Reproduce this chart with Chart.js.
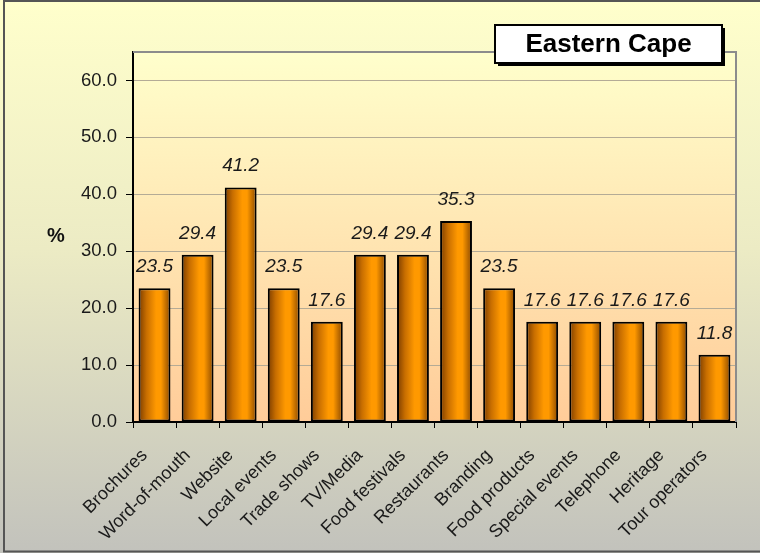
<!DOCTYPE html>
<html>
<head>
<meta charset="utf-8">
<script src="https://cdn.jsdelivr.net/npm/chart.js@4"></script>
<style>
  html, body { margin: 0; padding: 0; background: #fff; }
  canvas { display: block; }
</style>
</head>
<body>
<canvas id="chart" width="760" height="553"></canvas>
<script>
const categories = [
  'Brochures', 'Word-of-mouth', 'Website', 'Local events', 'Trade shows',
  'TV/Media', 'Food festivals', 'Restaurants', 'Branding', 'Food products',
  'Special events', 'Telephone', 'Heritage', 'Tour operators'
];
const percentages = [23.5, 29.4, 41.2, 23.5, 17.6, 29.4, 29.4, 35.3, 23.5, 17.6, 17.6, 17.6, 17.6, 11.8];
const yTicks = [0, 10, 20, 30, 40, 50, 60];
const chartTitle = 'Eastern Cape';
const axisLabel = '%';

const FONT = 'Arial, "Liberation Sans", sans-serif';
const BAR_FRACTION = 0.74;

// page + plot backgrounds, outer frame
const backdrop = {
  id: 'backdrop',
  beforeDraw(chart) {
    const { ctx, width, height, chartArea: a } = chart;
    ctx.save();
    const bg = ctx.createLinearGradient(0, 0, 0, height);
    bg.addColorStop(0, '#ffffcc');
    bg.addColorStop(0.45, '#ecebc4');
    bg.addColorStop(1, '#c2c2bc');
    ctx.fillStyle = bg;
    ctx.fillRect(0, 0, width, height);

    const pg = ctx.createLinearGradient(0, a.top, 0, a.bottom);
    pg.addColorStop(0, '#ffffcc');
    pg.addColorStop(1, '#ffcc99');
    ctx.fillStyle = pg;
    ctx.fillRect(a.left, a.top, a.right - a.left, a.bottom - a.top);

    ctx.strokeStyle = '#555';
    ctx.lineWidth = 2;
    ctx.beginPath();
    ctx.moveTo(width + 2, 1);
    ctx.lineTo(4, 1);
    ctx.lineTo(4, height - 1.5);
    ctx.lineTo(width + 2, height - 1.5);
    ctx.stroke();
    ctx.restore();
  },
  beforeDatasetsDraw(chart) {
    const { ctx, chartArea: a } = chart;
    ctx.save();
    ctx.strokeStyle = '#8c8c8c';
    ctx.lineWidth = 2;
    ctx.beginPath();
    ctx.moveTo(a.left, a.top);
    ctx.lineTo(a.right, a.top);
    ctx.lineTo(a.right, a.bottom);
    ctx.stroke();
    ctx.restore();
  }
};

// value above each bar
const valueLabels = {
  id: 'valueLabels',
  afterDatasetsDraw(chart) {
    const { ctx } = chart;
    const meta = chart.getDatasetMeta(0);
    ctx.save();
    ctx.font = 'italic 19px ' + FONT;
    ctx.fillStyle = '#1a1a1a';
    ctx.textAlign = 'center';
    ctx.textBaseline = 'alphabetic';
    meta.data.forEach((bar, i) => {
      ctx.fillText(percentages[i].toFixed(1), bar.x, bar.y - 16);
    });
    ctx.restore();
  }
};

// title box and the "%" axis label
const decorations = {
  id: 'decorations',
  afterDraw(chart) {
    const { ctx, scales } = chart;
    ctx.save();
    const bx = 495, by = 25, bw = 227, bh = 38;
    ctx.fillStyle = '#000';
    ctx.fillRect(bx + 3, by + 3, bw, bh);
    ctx.fillStyle = '#fff';
    ctx.fillRect(bx, by, bw, bh);
    ctx.strokeStyle = '#000';
    ctx.lineWidth = 2;
    ctx.strokeRect(bx, by, bw, bh);
    ctx.fillStyle = '#000';
    ctx.font = 'bold 26px ' + FONT;
    ctx.textAlign = 'center';
    ctx.textBaseline = 'middle';
    ctx.fillText(chartTitle, bx + bw / 2, by + bh / 2 + 1);

    const y = scales.y;
    ctx.font = 'bold 20px ' + FONT;
    ctx.fillStyle = '#111';
    ctx.fillText(axisLabel, 56, y.getPixelForValue(32.6));
    ctx.restore();
  }
};

new Chart(document.getElementById('chart'), {
  type: 'bar',
  data: {
    labels: categories,
    datasets: [{
      data: percentages,
      borderColor: '#000',
      borderWidth: 2,
      borderSkipped: false,
      barPercentage: BAR_FRACTION,
      categoryPercentage: 1,
      backgroundColor: (c) => {
        const chart = c.chart;
        if (!chart.chartArea || c.dataIndex === undefined) return '#ff9900';
        const xs = chart.scales.x;
        const cx = xs.getPixelForValue(c.dataIndex);
        const w = xs.width / categories.length * BAR_FRACTION;
        const g = chart.ctx.createLinearGradient(cx - w / 2, 0, cx + w / 2, 0);
        g.addColorStop(0, '#7a3c00');
        g.addColorStop(0.25, '#c86e00');
        g.addColorStop(0.55, '#ff9900');
        g.addColorStop(0.7, '#ff9900');
        g.addColorStop(1, '#8a4800');
        return g;
      }
    }]
  },
  options: {
    responsive: false,
    animation: false,
    layout: { padding: { top: 52, right: 24, left: 0, bottom: 0 } },
    plugins: { legend: { display: false }, tooltip: { enabled: false } },
    scales: {
      x: {
        afterFit: (s) => { s.height = 131; },
        grid: { drawOnChartArea: false, offset: true, tickLength: 6, tickColor: '#000' },
        border: { color: '#000', width: 2 },
        ticks: {
          autoSkip: false, minRotation: 45, maxRotation: 45,
          color: '#1a1a1a', font: { family: FONT, size: 18 },
          padding: 17, labelOffset: -10
        }
      },
      y: {
        min: 0, max: 65,
        afterFit: (s) => { s.width = 133; },
        afterBuildTicks: (s) => { s.ticks = yTicks.map(v => ({ value: v })); },
        grid: { color: '#b4ab96', tickColor: '#000', tickLength: 7 },
        border: { color: '#000', width: 2 },
        ticks: {
          color: '#1a1a1a', font: { family: FONT, size: 18.5 }, padding: 9,
          callback: (v) => Number(v).toFixed(1)
        }
      }
    }
  },
  plugins: [backdrop, valueLabels, decorations]
});
</script>
</body>
</html>
